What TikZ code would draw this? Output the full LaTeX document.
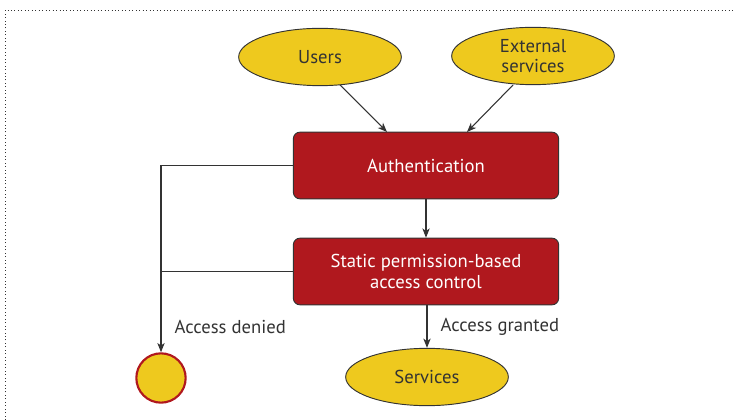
\documentclass[tikz,border=0pt]{standalone}
\usepackage{fontspec}
\setmainfont{PT Sans}
\usetikzlibrary{shapes.geometric, arrows.meta}

\definecolor{boxred}{HTML}{B0181E}
\definecolor{ovalyellow}{HTML}{EEC91E}
\definecolor{linegray}{HTML}{333333}

\tikzset{
	actor/.style={ellipse, draw=linegray, fill=ovalyellow, line width=0.7pt,
		minimum width=122pt, minimum height=43pt, inner sep=0pt,
		align=center, text=linegray, font=\fontsize{14}{15.5}\selectfont},
	stepbox/.style={rectangle, rounded corners=5pt, draw=linegray, fill=boxred,
		line width=0.7pt, minimum width=199pt, minimum height=50pt,
		align=center, text=white, font=\fontsize{14}{15.5}\selectfont},
	flow/.style={draw=linegray, line width=0.8pt, -{Stealth[length=7pt, width=5.5pt, inset=2pt]}},
	lbl/.style={anchor=west, text=linegray, font=\fontsize{14}{15.5}\selectfont}
}

\begin{document}
\begin{tikzpicture}[x=0.75pt, y=-0.75pt]
	\useasboundingbox (0,0) rectangle (735,420);
	% frame
	\draw[linegray, dotted, line width=0.6pt] (5,420) -- (5,10) -- (735,10);
	
	\node[actor] (users) at (320,57) {Users};
	\node[actor] (ext) at (533,56) {External\\services};
	\node[stepbox] (auth) at (426,165.5) {Authentication};
	\node[stepbox] (static) at (426,271.5) {Static permission-based\\access control};
	\node[actor] (services) at (427,377) {Services};
	\node[circle, draw=boxred, fill=ovalyellow, line width=1.6pt, minimum size=37pt, inner sep=0pt] (denied) at (161,378) {};
	
	\coordinate (u1) at (340,85);
	\coordinate (u2) at (387,132);
	\coordinate (e1) at (513,85);
	\coordinate (e2) at (467,132);
	\draw[flow] (u1) -- (u2);
	\draw[flow] (e1) -- (e2);
	\draw[flow] (auth) -- (static);
	\draw[flow] (static.south -| services.north) -- (services.north);
	\draw[flow] (auth.west) -| (denied.north);
	\draw[flow, -] (static.west) -- (static.west -| denied.north);
	
	\node[lbl] (deniedtxt) at (170,327) {Access denied};
	\node[lbl] (grantedtxt) at (436,327) {Access granted};
\end{tikzpicture}
\end{document}
